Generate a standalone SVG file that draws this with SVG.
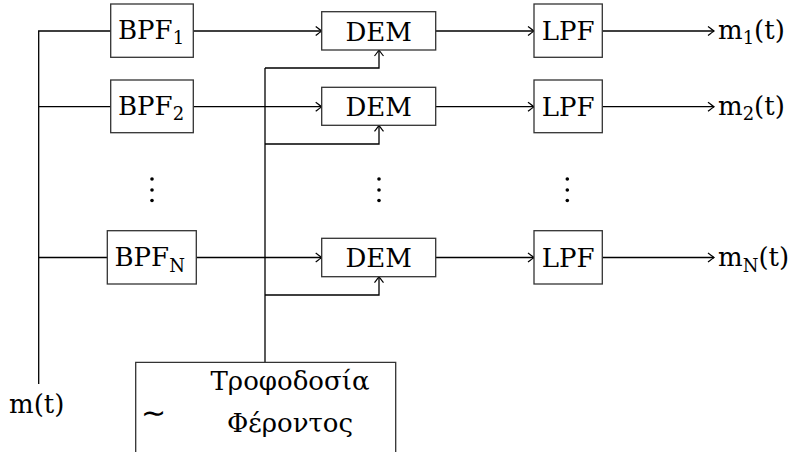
<svg xmlns="http://www.w3.org/2000/svg" width="806" height="452" viewBox="0 0 806 452">
<defs>
<style>
.box{fill:#fff;stroke:#333;stroke-width:1.3}
.ln{fill:none;stroke:#000;stroke-width:1.3}
.arr{marker-end:url(#to)}
.t{font-family:"DejaVu Serif","Liberation Serif",serif;font-size:26px;fill:#000}
.c{text-anchor:middle}
.dot{fill:#000}
</style>
<marker id="to" markerUnits="userSpaceOnUse" markerWidth="12" markerHeight="12" viewBox="-8 -6 10 12" refX="0" refY="0" orient="auto" overflow="visible">
<path d="M-6,-4.5 Q-1.5,-1 0,0 Q-1.5,1 -6,4.5" fill="none" stroke="#000" stroke-width="1.2"/>
</marker>
</defs>
<rect width="806" height="452" fill="#fff"/>
<g id="connectors">
<path class="ln" d="M38.7,384 V31 H111 M38.7,106.7 H111 M38.7,257.5 H107.3"/>
<path class="ln arr" d="M193.3,31 H321.7"/>
<path class="ln arr" d="M193.3,106.7 H321.7"/>
<path class="ln arr" d="M196.3,257.5 H321.7"/>
<path class="ln" d="M265,362.3 V68"/>
<path class="ln arr" d="M265,68 H379 V50"/>
<path class="ln arr" d="M265,144 H379 V125.3"/>
<path class="ln arr" d="M265,295 H379 V276.7"/>
<path class="ln arr" d="M435.7,31 H534"/>
<path class="ln arr" d="M435.7,106.7 H534"/>
<path class="ln arr" d="M435.7,257.5 H534"/>
<path class="ln arr" d="M602.3,31 H714"/>
<path class="ln arr" d="M602.3,106.7 H714"/>
<path class="ln arr" d="M602.3,257.5 H714"/>
</g>
<g id="bpf1"><rect class="box" x="110.7" y="4" width="82.6" height="53.3"/><text class="t" x="118" y="39">BPF<tspan font-size="18" dy="5">1</tspan></text></g>
<g id="bpf2"><rect class="box" x="110.7" y="80" width="82.6" height="52.7"/><text class="t" x="118" y="114.5">BPF<tspan font-size="18" dy="5">2</tspan></text></g>
<g id="bpfN"><rect class="box" x="107.3" y="230.7" width="89" height="53.3"/><text class="t" x="114.5" y="265.5">BPF<tspan font-size="18" dy="6">N</tspan></text></g>
<g id="dem1"><rect class="box" x="321.7" y="11.7" width="114" height="38.3"/><text class="t c" x="378.7" y="40.5">DEM</text></g>
<g id="dem2"><rect class="box" x="321.7" y="87.3" width="114" height="38"/><text class="t c" x="378.7" y="116">DEM</text></g>
<g id="demN"><rect class="box" x="321.7" y="238.3" width="114" height="38.4"/><text class="t c" x="378.7" y="267">DEM</text></g>
<g id="lpf1"><rect class="box" x="534" y="4" width="68.3" height="53.3"/><text class="t c" x="568.2" y="40">LPF</text></g>
<g id="lpf2"><rect class="box" x="534" y="80" width="68.3" height="52.7"/><text class="t c" x="568.2" y="115.5">LPF</text></g>
<g id="lpfN"><rect class="box" x="534" y="230.7" width="68.3" height="53.3"/><text class="t c" x="568.2" y="266.5">LPF</text></g>
<g id="dots">
<circle class="dot" cx="152" cy="179" r="1.8"/><circle class="dot" cx="152" cy="190" r="1.8"/><circle class="dot" cx="152" cy="200.5" r="1.8"/>
<circle class="dot" cx="379" cy="179" r="1.8"/><circle class="dot" cx="379" cy="190" r="1.8"/><circle class="dot" cx="379" cy="200.5" r="1.8"/>
<circle class="dot" cx="567.3" cy="179" r="1.8"/><circle class="dot" cx="567.3" cy="190" r="1.8"/><circle class="dot" cx="567.3" cy="200.5" r="1.8"/>
</g>
<g id="out1"><text class="t" x="718" y="39">m<tspan font-size="18" dy="5">1</tspan><tspan dy="-5">(t)</tspan></text></g>
<g id="out2"><text class="t" x="718" y="114.5">m<tspan font-size="18" dy="5">2</tspan><tspan dy="-5">(t)</tspan></text></g>
<g id="outN"><text class="t" x="718" y="265.5">m<tspan font-size="18" dy="6">N</tspan><tspan dy="-6">(t)</tspan></text></g>
<g id="input"><text class="t" x="9" y="413">m(t)</text></g>
<g id="carrier">
<path class="box" d="M135.7,460 V362.3 H395.7 V460"/>
<text x="141" y="423" font-family="DejaVu Sans, sans-serif" font-size="30" fill="#000">∼</text>
<text class="t c" x="290" y="390">Τροφοδοσία</text>
<text class="t c" x="290" y="432">Φέροντος</text>
</g>
</svg>
